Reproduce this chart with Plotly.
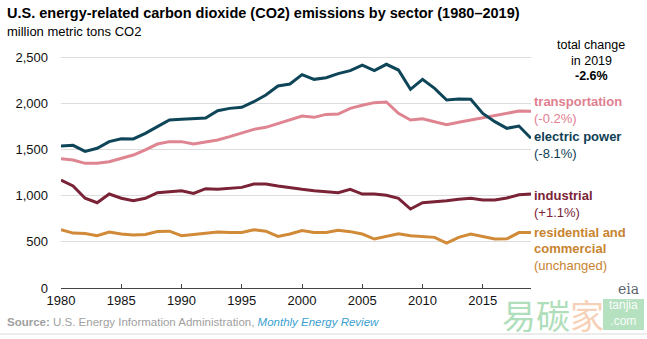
import plotly.graph_objects as go

# CO2 emissions by sector, million metric tons
years = list(range(1980, 2020))

electric_power = [1537, 1544, 1479, 1512, 1584, 1616, 1613, 1674, 1746, 1818,
                  1825, 1829, 1840, 1919, 1944, 1955, 2016, 2088, 2186, 2208,
                  2309, 2258, 2276, 2320, 2352, 2413, 2352, 2421, 2359, 2150,
                  2258, 2161, 2035, 2045, 2042, 1890, 1800, 1728, 1753, 1620]

transportation = [1400, 1385, 1349, 1349, 1367, 1403, 1439, 1494, 1558, 1584,
                  1584, 1558, 1584, 1602, 1638, 1674, 1717, 1739, 1782, 1818,
                  1861, 1847, 1879, 1883, 1944, 1977, 2006, 2013, 1890, 1818,
                  1832, 1800, 1767, 1793, 1818, 1836, 1865, 1890, 1915, 1912]

industrial = [1169, 1104, 971, 923, 1017, 971, 945, 971, 1032, 1039,
              1053, 1024, 1075, 1068, 1082, 1089, 1125, 1125, 1104, 1082,
              1068, 1053, 1043, 1032, 1068, 1017, 1017, 1003, 971, 855,
              923, 930, 945, 960, 971, 953, 953, 974, 1010, 1017]

residential_commercial = [630, 594, 590, 566, 606, 584, 573, 579, 612, 615,
                          566, 579, 594, 605, 600, 600, 630, 615, 558, 584,
                          622, 600, 600, 625, 610, 584, 530, 563, 588, 565,
                          555, 548, 485, 548, 584, 558, 530, 532, 600, 600]

x_ticks = [1980, 1985, 1990, 1995, 2000, 2005, 2010, 2015]
y_ticks = [0, 500, 1000, 1500, 2000, 2500]

series = [
    ("residential and commercial", residential_commercial, "#d08a38"),
    ("industrial", industrial, "#7b2336"),
    ("transportation", transportation, "#de8591"),
    ("electric power", electric_power, "#0e4558"),
]

W, H = 647, 339
L, R, T, B = 61, 116, 52, 51
PW, PH = W - L - R, H - T - B


def px(x):
    return (x - L) / PW


def py(y):
    return (H - B - y) / PH


fig = go.Figure()
for name, vals, color in series:
    fig.add_trace(go.Scatter(
        x=years, y=vals, mode="lines", name=name,
        line=dict(color=color, width=3), hoverinfo="x+y+name",
    ))

font = "Liberation Sans, Arial, sans-serif"
ann = []


def text(x, y, s, size=13, color="#000", xanchor="left", bold=False, family=font):
    if bold:
        s = "<b>" + s + "</b>"
    ann.append(dict(x=px(x), y=py(y), xref="paper", yref="paper", text=s,
                    showarrow=False, xanchor=xanchor, yanchor="middle",
                    font=dict(family=family, size=size, color=color)))


# title and units
text(5, 13, "U.S. energy-related carbon dioxide (CO2) emissions by sector (1980–2019)",
     size=14.5, bold=True)
text(5, 31, "million metric tons CO2", size=13)

# total change note
text(591, 45, "total change", size=12.5, xanchor="center")
text(591, 61, "in 2019", size=12.5, xanchor="center")
text(591, 76, "-2.6%", size=12.5, xanchor="center", bold=True)

# end-of-line labels
text(532, 101, "transportation", color="#df8090", bold=True)
text(532, 118, "(-0.2%)", color="#df8090")
text(532, 136, "electric power", color="#0e4054", bold=True)
text(532, 153, "(-8.1%)", color="#0e4054")
text(532, 195, "industrial", color="#7b2336", bold=True)
text(532, 212, "(+1.1%)", color="#7b2336")
text(532, 232, "residential and", color="#c8832f", bold=True)
text(532, 248, "commercial", color="#c8832f", bold=True)
text(532, 265, "(unchanged)", color="#c8832f")

# source line
ann.append(dict(x=px(5), y=py(322), xref="paper", yref="paper", showarrow=False,
                xanchor="left", yanchor="middle",
                text="<b>Source:</b> U.S. Energy Information Administration, "
                     "<i><span style='color:#3a9fd0'>Monthly Energy Review</span></i>",
                font=dict(family=font, size=11.5, color="#a0a0a0")))

# site watermark and agency mark
ann.append(dict(x=px(500), y=py(314), xref="paper", yref="paper", showarrow=False,
                xanchor="left", yanchor="middle",
                text="<span style='color:rgba(120,200,140,0.6)'>易碳</span>"
                     "<span style='color:rgba(240,170,120,0.55)'>家</span>",
                font=dict(family="Noto Sans CJK SC", size=34)))
text(623, 313, "tanjia<br>.com", size=12, color="rgba(255,255,255,0.95)",
     xanchor="center")
text(628, 289, "eia", size=14, color="rgba(60,70,80,0.85)", xanchor="center",
     family="DejaVu Serif")

shapes = [
    dict(type="rect", xref="paper", yref="paper", layer="below",
         x0=px(603), x1=px(644), y0=py(299), y1=py(330),
         fillcolor="rgba(120,200,140,0.55)", line=dict(width=0)),
    dict(type="line", xref="paper", yref="paper", x0=px(0), x1=px(647),
         y0=py(334), y1=py(334), line=dict(color="#e6e6e6", width=1.5)),
]

fig.update_layout(
    width=W, height=H,
    margin=dict(l=L, r=R, t=T, b=B),
    paper_bgcolor="white", plot_bgcolor="white",
    showlegend=False,
    font=dict(family=font, size=13, color="#111"),
    annotations=ann, shapes=shapes,
    xaxis=dict(range=[1980, 2019], tickvals=x_ticks, showgrid=False,
               showline=True, linecolor="#444", linewidth=1.2,
               ticks="inside", ticklen=4, tickcolor="#444",
               tickfont=dict(size=13, color="#111"), zeroline=False, fixedrange=True),
    yaxis=dict(range=[0, PH / 0.0924], tickvals=y_ticks, tickformat=",",
               showgrid=True, gridcolor="#dddddd", gridwidth=1,
               zeroline=False, showline=False, ticks="",
               ticklabelstandoff=12,
               tickfont=dict(size=13, color="#111"), fixedrange=True),
)

fig.write_html("out.html")
